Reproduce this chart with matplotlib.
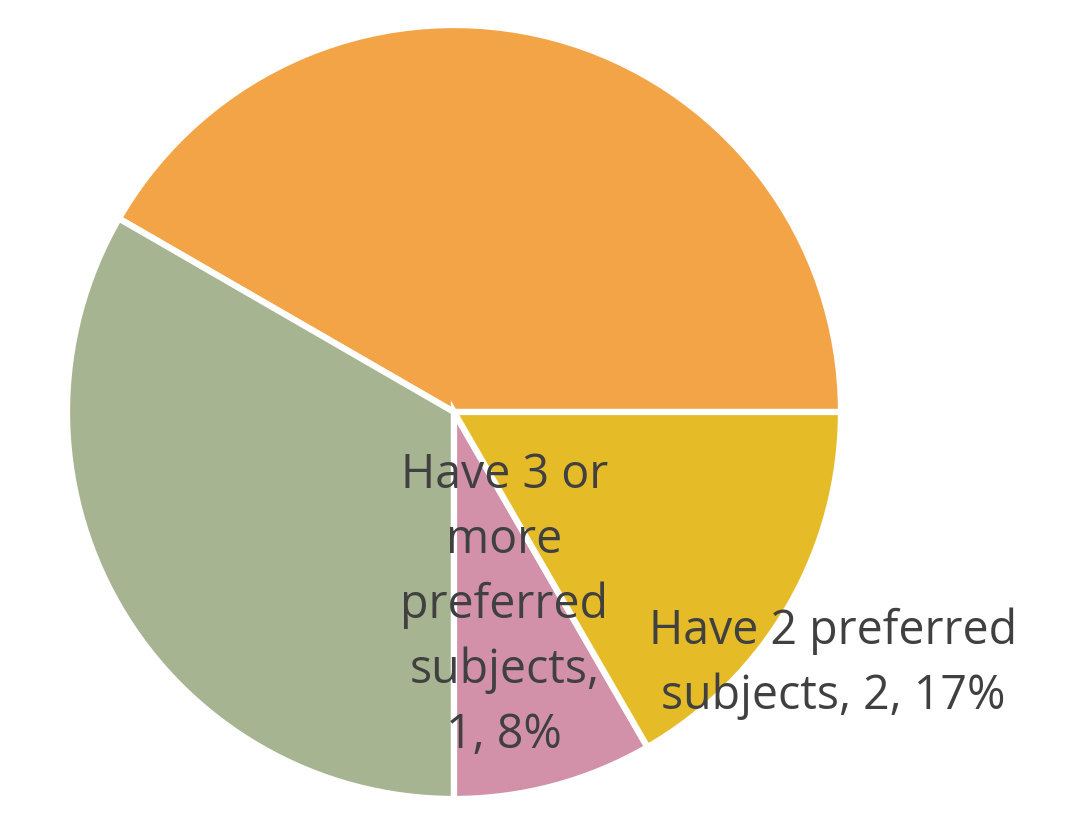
import matplotlib.pyplot as plt

# slice data (counter-clockwise from 3 o'clock)
categories = ['Have 1 preferred subject', 'Have no preferred subject',
              'Have 3 or more preferred subjects', 'Have 2 preferred subjects']
counts = [5, 4, 1, 2]
colors = ['#F2A446', '#A7B491', '#D291A8', '#E5BC28']
show_label = [False, False, True, True]

plt.rcParams['font.family'] = ['Open Sans', 'DejaVu Sans']

fig = plt.figure(figsize=(10.8, 8.35), dpi=100)
# pie centre ~ (454, 412) px, radius ~ 387 px
ax = fig.add_axes([(454 - 387) / 1080, (835 - 412 - 387) / 835,
                   2 * 387 / 1080, 2 * 387 / 835])

wedges, _ = ax.pie(counts, colors=colors, startangle=0, counterclock=True,
                   radius=1, wedgeprops={'edgecolor': 'white', 'linewidth': 4.5})

total = sum(counts)
label_pos = {2: (0.13, -0.50), 3: (0.98, -0.65)}
label_text = {2: 'Have 3 or\nmore\npreferred\nsubjects,\n{n}, {p:.0f}%',
              3: 'Have 2 preferred\nsubjects, {n}, {p:.0f}%'}
for i, n in enumerate(counts):
    if not show_label[i]:
        continue
    x, y = label_pos[i]
    ax.text(x, y, label_text[i].format(n=n, p=100 * n / total),
            ha='center', va='center', fontsize=33.5, color='#404040',
            linespacing=1.48)

ax.set_xlim(-1, 1)
ax.set_ylim(-1, 1)
ax.set_aspect('equal')
ax.axis('off')

fig.savefig('out.png', dpi=100)
